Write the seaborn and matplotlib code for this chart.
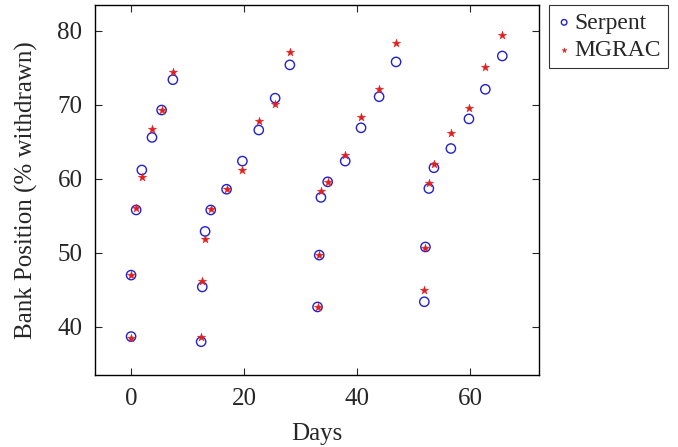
import pandas as pd
import matplotlib.pyplot as plt
import seaborn as sns

# values
serpent_days = [0.0, 0.0, 0.9, 1.9, 3.7, 5.4, 7.4,
                12.4, 12.6, 13.1, 14.1, 16.9, 19.7, 22.6, 25.5, 28.1,
                33.0, 33.3, 33.6, 34.8, 37.9, 40.7, 43.9, 46.9,
                51.9, 52.1, 52.7, 53.6, 56.6, 59.8, 62.7, 65.7]
serpent_pos = [38.7, 47.0, 55.8, 61.2, 65.6, 69.3, 73.4,
               38.0, 45.4, 52.9, 55.8, 58.6, 62.4, 66.6, 70.9, 75.4,
               42.7, 49.7, 57.5, 59.6, 62.4, 66.9, 71.1, 75.8,
               43.4, 50.8, 58.7, 61.5, 64.1, 68.1, 72.1, 76.6]
mgrac_days = serpent_days
mgrac_pos = [38.5, 47.0, 56.0, 60.2, 66.7, 69.3, 74.5,
             38.7, 46.2, 51.9, 55.9, 58.6, 61.2, 67.8, 70.1, 77.2,
             42.7, 49.7, 58.3, 59.6, 63.2, 68.4, 72.1, 78.3,
             45.0, 50.6, 59.5, 62.0, 66.2, 69.6, 75.1, 79.4]

df = pd.DataFrame({
    "Days": serpent_days + mgrac_days,
    "Pos": serpent_pos + mgrac_pos,
    "Code": ["Serpent"] * len(serpent_days) + ["MGRAC"] * len(mgrac_days),
})

sns.set_style("ticks")
plt.rcParams['font.family'] = ['Liberation Serif', 'DejaVu Serif']

fig = plt.figure(figsize=(6.78, 4.47), dpi=100)
ax = fig.add_axes([0.140, 0.161, 0.655, 0.828])

sns.scatterplot(data=df[df.Code == "Serpent"], x="Days", y="Pos", ax=ax,
                marker="o", s=45, facecolor="none", edgecolor="#2020d0",
                linewidth=1.0, label="Serpent")
sns.scatterplot(data=df[df.Code == "MGRAC"], x="Days", y="Pos", ax=ax,
                marker="*", s=40, color="#e02020", edgecolor="#e02020",
                linewidth=0.3, label="MGRAC")

ax.set_xlim(-6.4, 72.2)
ax.set_ylim(33.5, 83.5)
ax.set_xticks([0, 20, 40, 60])
ax.set_yticks([40, 50, 60, 70, 80])
ax.tick_params(direction="in", top=True, right=True, labelsize=18,
               length=5, width=0.8, pad=9)
for sp in ax.spines.values():
    sp.set_linewidth(1.0)
    sp.set_color("black")

ax.set_xlabel("Days", fontsize=18, labelpad=10)
ax.set_ylabel("Bank Position (% withdrawn)", fontsize=18, labelpad=14)

leg = ax.legend(loc="upper left", bbox_to_anchor=(1.022, 1.0), fontsize=17,
                frameon=True, fancybox=False, edgecolor="black",
                handletextpad=0.1, handlelength=0.7, borderpad=0.3,
                labelspacing=0.25, borderaxespad=0.0, markerscale=0.6)
leg.get_frame().set_linewidth(0.8)

fig.savefig("out.png", dpi=100)
